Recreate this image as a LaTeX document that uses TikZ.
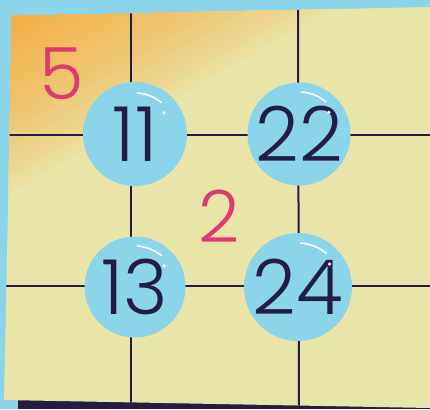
\documentclass[tikz,border=0pt]{standalone}
\usepackage{fontspec}
\setmainfont{Poppins}[UprightFont=* Light]

\definecolor{skyblue}{HTML}{8AD5EA}
\definecolor{paper}{HTML}{E9E5A9}
\definecolor{crayon}{HTML}{F5A636}
\definecolor{navy}{HTML}{221C47}
\definecolor{rose}{HTML}{DE3A72}
\definecolor{bubbleblue}{HTML}{8BD5EA}

\tikzset{
  bubble/.style={circle,fill=bubbleblue,minimum size=#1,inner sep=0pt,
    text=navy,font=\fontsize{76}{76}\selectfont},
  hint/.style={text=rose,inner sep=0pt,font=\fontsize{72}{72}\selectfont},
  gridline/.style={navy,line width=2pt},
  shine/.style={white,line width=1.6pt,line cap=round}
}

\begin{document}
\begin{tikzpicture}[x=1pt,y=-1pt]
\useasboundingbox (0,0) rectangle (430,409);
\fill[skyblue] (0,0) rectangle (430,409);

% shadow under the sheet
\fill[navy] (18,396) -- (430,396) -- (430,409) -- (18,409) -- cycle;

% the sheet
\fill[paper] (12,16) -- (430,7) -- (430,408) -- (4,400) -- cycle;

\begin{scope}
\clip (12,16) -- (430,7) -- (430,408) -- (4,400) -- cycle;
% orange corner
\foreach \i in {24,23,...,1}{
  \pgfmathsetmacro\t{\i/24}
  \pgfmathtruncatemacro\pct{88*(1-\t)^0.8+7}
  \fill[crayon!\pct!paper] (0,0) -- (0,{16+182*\t}) -- ({12+335*\t},0) -- cycle;
}
% grid
\draw[gridline] (131,0) -- (131,409);
\draw[gridline] (298,0) -- (299,409);
\draw[gridline] (0,135) -- (430,135);
\draw[gridline] (0,286) -- (430,286);
\end{scope}

% bubbles
\node[bubble=104pt] (b11) at (135,134) {11};
\node[bubble=100pt] (b22) at (299,134) {22};
\node[bubble=101pt] (b13) at (135,287) {13};
\node[bubble=108pt] (b24) at (298,287) {24};

\foreach \b/\r in {b11/41,b22/42,b13/41,b24/44}{
  \draw[shine] ([shift={(-87:\r)}]\b.center) arc[start angle=-87,end angle=-50,radius=\r];
  \fill[white] ([shift={(-36:\r-5)}]\b.center) circle (1.8);
}

% red numbers
\node[hint] (five) at (62,74) {5};
\node[hint] (two) at (219,216) {2};
\end{tikzpicture}
\end{document}
